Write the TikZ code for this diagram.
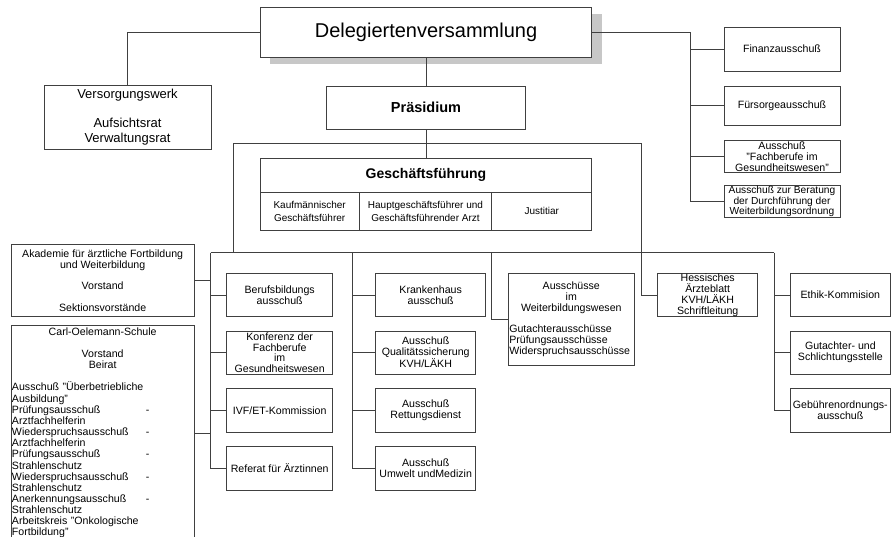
\documentclass[tikz,border=0pt]{standalone}
\usepackage{fontspec}
\setmainfont{Liberation Sans}
\usetikzlibrary{shadows}

\definecolor{linegray}{gray}{0.25}
\definecolor{shadegray}{gray}{0.78}
\newcommand\dashrow[1]{\makebox[134pt][l]{#1}-}

\begin{document}
\begin{tikzpicture}[x=1pt,y=-1pt,
  box/.style={draw=linegray,line width=0.8pt,fill=white,align=center,inner xsep=1pt,inner ysep=0pt,
    font=\fontsize{10.6}{11}\selectfont},
  link/.style={draw=linegray,line width=0.8pt},
  cell/.style={box,minimum height=37.3pt,font=\fontsize{10}{12.5}\selectfont}]
  \useasboundingbox (0,0) rectangle (895,537);

  \node[box,minimum width=331.7pt,minimum height=50pt,font=\fontsize{20}{24}\selectfont,
    drop shadow={shadow xshift=10pt,shadow yshift=-7.5pt,fill=shadegray,opacity=1}] (deleg) at (426,32) {Delegiertenversammlung};
  \node[box,minimum width=167pt,minimum height=64pt,font=\fontsize{13}{14.5}\selectfont] (versorg) at (127.5,117) {Versorgungswerk\\[14.5pt]Aufsichtsrat\\Verwaltungsrat};
  \node[box,minimum width=198.7pt,minimum height=43pt,font=\fontsize{14.5}{17}\selectfont\bfseries] (praes) at (426,107.5) {Präsidium};
  \node[box,minimum width=331.7pt,minimum height=34.7pt,font=\fontsize{14}{17}\selectfont\bfseries] (gf) at (426,175.3) {Geschäftsführung};
  \node[cell,minimum width=99pt] (kfm) at (309.65,211.3) {Kaufmännischer\\Geschäftsführer};
  \node[cell,minimum width=132.7pt] (hgf) at (425.5,211.3) {Hauptgeschäftsführer und\\Geschäftsführender Arzt};
  \node[cell,minimum width=100pt] (just) at (541.85,211.3) {Justitiar};

  \node[box,minimum width=116pt,minimum height=43.7pt] (finanz) at (782,49.2) {Finanzausschuß};
  \node[box,minimum width=116pt,minimum height=39.7pt] (fuers) at (782,105.8) {Fürsorgeausschuß};
  \node[box,minimum width=116pt,minimum height=32pt] (fachb) at (782,156.3) {Ausschuß\\"Fachberufe im\\Gesundheitswesen"};
  \node[box,minimum width=116pt,minimum height=31.6pt,font=\fontsize{10.2}{10.8}\selectfont] (berat) at (782,201.5) {Ausschuß zur Beratung\\der Durchführung der\\Weiterbildungsordnung};

  \node[box,minimum width=183.3pt,minimum height=72.7pt] (akad) at (102.65,280.35) {Akademie für ärztliche Fortbildung\\und Weiterbildung\\[10.5pt]Vorstand\\[10.5pt]Sektionsvorstände};
  \node[box,text width=181.3pt,align=left,minimum height=216pt,font=\fontsize{10.6}{11.15}\selectfont] (coel) at (102.65,433) {%
    \makebox[181.3pt]{Carl-Oelemann-Schule}\\[11pt]
    \makebox[181.3pt]{Vorstand}\\
    \makebox[181.3pt]{Beirat}\\[11pt]
    Ausschuß "Überbetriebliche\\
    Ausbildung"\\
    \dashrow{Prüfungsausschuß}\\
    Arztfachhelferin\\
    \dashrow{Wiederspruchsausschuß}\\
    Arztfachhelferin\\
    \dashrow{Prüfungsausschuß}\\
    Strahlenschutz\\
    \dashrow{Wiederspruchsausschuß}\\
    Strahlenschutz\\
    \dashrow{Anerkennungsausschuß}\\
    Strahlenschutz\\
    Arbeitskreis "Onkologische\\
    Fortbildung"};

  \node[box,minimum width=106pt,minimum height=43.4pt] (berufs) at (279.7,295) {Berufsbildungs\\ausschuß};
  \node[box,minimum width=106pt,minimum height=43.3pt,font=\fontsize{10.6}{10.6}\selectfont] (konf) at (279.7,352.65) {Konferenz der\\Fachberufe\\im\\Gesundheitswesen};
  \node[box,minimum width=106pt,minimum height=44pt] (ivf) at (279.7,410.3) {IVF/ET-Kommission};
  \node[box,minimum width=106pt,minimum height=43.3pt] (referat) at (279.7,468.35) {Referat für Ärztinnen};

  \node[box,minimum width=110pt,minimum height=43.4pt] (kranken) at (430.7,295) {Krankenhaus\\ausschuß};
  \node[box,minimum width=100pt,minimum height=43.3pt] (quali) at (425.7,352.65) {Ausschuß\\Qualitätssicherung\\KVH/LÄKH};
  \node[box,minimum width=100pt,minimum height=44pt] (rett) at (425.7,410.3) {Ausschuß\\Rettungsdienst};
  \node[box,minimum width=100pt,minimum height=43.3pt] (umwelt) at (425.7,468.35) {Ausschuß\\Umwelt undMedizin};

  \node[box,text width=124pt,align=left,minimum height=92.4pt] (weiterb) at (571.3,319.5) {%
    \makebox[124pt]{Ausschüsse}\\
    \makebox[124pt]{im}\\
    \makebox[124pt]{Weiterbildungswesen}\\[10.5pt]
    Gutachterausschüsse\\
    Prüfungsausschüsse\\
    Widerspruchsausschüsse};
  \node[box,minimum width=100pt,minimum height=43.4pt] (hess) at (707.7,295) {Hessisches\\Ärzteblatt\\KVH/LÄKH\\Schriftleitung};

  \node[box,minimum width=99.3pt,minimum height=43.4pt] (ethik) at (840.35,295) {Ethik-Kommision};
  \node[box,minimum width=99.3pt,minimum height=43.3pt] (gutacht) at (840.35,352.65) {Gutachter- und\\Schlichtungsstelle};
  \node[box,minimum width=99.3pt,minimum height=44pt] (gebuehr) at (840.35,410.3) {Gebührenordnungs-\\ausschuß};

  \coordinate (busT) at (690.7,32);
  \coordinate (frameTL) at (233,143);
  \coordinate (frameTR) at (641.7,143);
  \coordinate (busL) at (210.7,252.7);
  \coordinate (bus2) at (352.7,252.7);
  \coordinate (bus3) at (491.7,252.7);
  \coordinate (busR) at (774,252.7);

  \draw[link] (deleg.west) -| (versorg.north);
  \draw[link] (deleg.south) -- (praes.north);
  \draw[link] (praes.south) -- (gf.north);
  \draw[link] (deleg.east) -- (busT) |- (berat.west);
  \foreach \n in {finanz,fuers,fachb}
    \draw[link] (\n.west) -- (\n.west -| busT);

  \draw[link] (frameTL |- busL) -- (frameTL) -- (frameTR) |- (hess.west);
  \draw[link] (busL) -- (busR);
  \draw[link] (busL) |- (referat.west);
  \foreach \n in {akad,coel}
    \draw[link] (\n.east) -- (\n.east -| busL);
  \foreach \n in {berufs,konf,ivf}
    \draw[link] (\n.west) -- (\n.west -| busL);
  \draw[link] (bus2) |- (umwelt.west);
  \foreach \n in {kranken,quali,rett}
    \draw[link] (\n.west) -- (\n.west -| bus2);
  \draw[link] (bus3) |- (weiterb.west);
  \draw[link] (busR) |- (gebuehr.west);
  \foreach \n in {ethik,gutacht}
    \draw[link] (\n.west) -- (\n.west -| busR);
\end{tikzpicture}
\end{document}
